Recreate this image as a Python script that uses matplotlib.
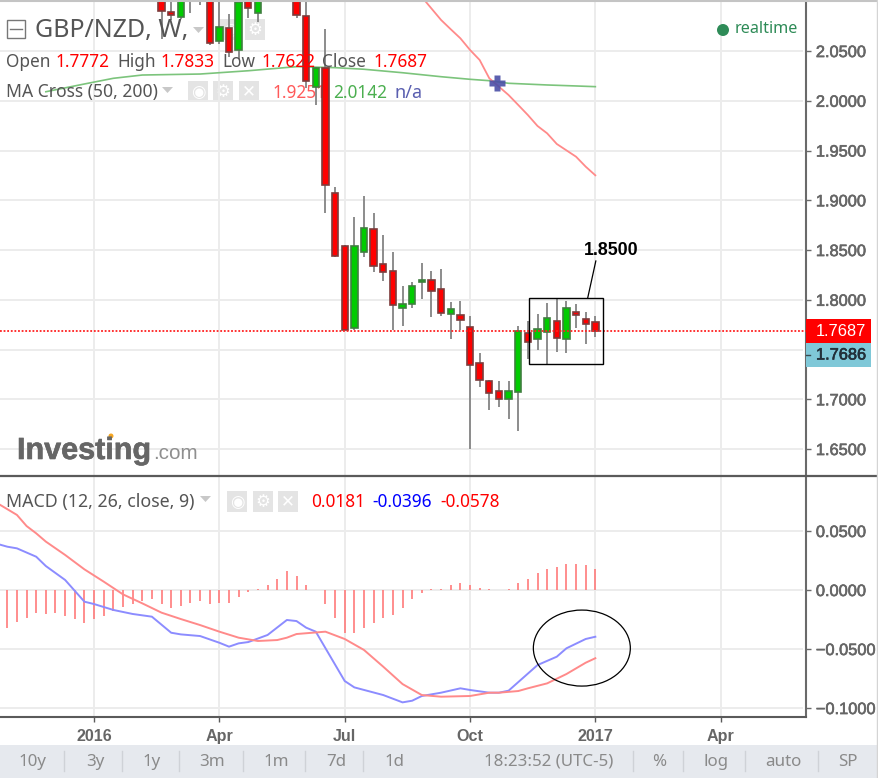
#!/usr/bin/env python3
"""GBP/NZD weekly candlestick chart with MA cross and MACD panels."""

import matplotlib
matplotlib.use("Agg")
import matplotlib.pyplot as plt
import matplotlib.patheffects as pe
from matplotlib.patches import Ellipse, Rectangle, Circle, Polygon
import numpy as np

nan = float("nan")

# week numbers count from the first July 2016 candle
weeks = list(range(-19, 27))
opens = [2.108, 2.0892, 2.0845, 2.112, 2.118, 2.108, 2.0604, 2.0729, 2.0511, 2.1033, 2.0885,
         nan, nan, nan, 2.112, 2.0852, 2.0136, 2.0330, 1.9073,
         1.8541, 1.7720, 1.8477, 1.8709, 1.8360, 1.8286, 1.7918, 1.7961, 1.8176, 1.8196,
         1.8106, 1.7857, 1.7847, 1.7727, 1.7365, 1.7184, 1.7080, 1.7000, 1.7076, 1.7663,
         1.7603, 1.7676, 1.7787, 1.7603, 1.7877, 1.7804, 1.7772]
closes = [2.0903, 2.0859, 2.104, 2.106, 2.110, 2.0584, 2.0745, 2.0493, 2.0996, 2.0933, 2.1003,
          nan, nan, nan, 2.0859, 2.0199, 2.0333, 1.9154, 1.8440,
          1.7697, 1.8541, 1.8725, 1.8340, 1.8279, 1.7948, 1.7955, 1.8136, 1.8196, 1.8085,
          1.7870, 1.7908, 1.7797, 1.7345, 1.7194, 1.7060, 1.7000, 1.7080, 1.7689, 1.7573,
          1.7710, 1.7817, 1.7616, 1.7921, 1.7844, 1.7754, 1.7687]
highs = [2.110, 2.103, 2.108, 2.116, 2.122, 2.112, 2.103, 2.0872, 2.106, 2.108, 2.108,
         nan, nan, nan, 2.118, 2.104, 2.0343, 2.0722, 1.9134,
         1.8551, 1.8829, 1.9043, 1.8875, 1.8651, 1.8483, 1.8139, 1.8182, 1.8367, 1.8289,
         1.8307, 1.7975, 1.7988, 1.7837, 1.7462, 1.7194, 1.7187, 1.7187, 1.7737, 1.7790,
         1.7854, 1.7971, 1.8005, 1.7988, 1.7958, 1.7880, 1.7833]
lows = [2.0621, 2.0812, 2.0822, 2.0885, 2.0963, 2.0561, 2.0571, 2.0443, 2.0420, 2.0832, 2.0795,
        nan, nan, nan, 2.0832, 2.0129, 1.9958, 1.8872, 1.8430,
        1.7697, 1.7697, 1.8430, 1.8276, 1.8189, 1.7697, 1.7737, 1.7915, 1.8005, 1.7824,
        1.7840, 1.7603, 1.7697, 1.6504, 1.7121, 1.6893, 1.6920, 1.6799, 1.6682, 1.7402,
        1.7496, 1.7355, 1.7478, 1.7462, 1.7720, 1.7556, 1.7622]

ma50_weeks = [8, 10, 11, 12, 13, 14, 15, 17, 18, 19, 20, 21, 22, 24, 25, 26]
ma50_values = [2.1043, 2.0812, 2.0719, 2.0628, 2.0511, 2.0410, 2.0226, 2.0058, 1.9958,
               1.9857, 1.9747, 1.9673, 1.9566, 1.9438, 1.9338, 1.9251]
ma200_weeks = [-31, -27, -24, -21, -15, -10, -5, -1, 2, 6, 10, 13, 15, 17, 21, 24, 26]
ma200_values = [2.0091, 2.0169, 2.0226, 2.0259, 2.0269, 2.0302, 2.0343, 2.0333, 2.0317,
                2.0282, 2.0242, 2.0216, 2.0202, 2.0176, 2.0159, 2.0149, 2.0142]
cross_week = 15.8
cross_price = 2.0176
last_price = 1.7687
last_bid = 1.7686

macd_weeks = [-36, -35, -34, -32, -31, -29, -27, -26, -24, -22, -20, -18, -17, -15, -13, -12,
              -11, -10, -8, -6, -5, -4, -3, 0, 1, 4, 6, 7, 8, 10, 12, 13, 15, 16, 17, 20, 22,
              23, 25, 26]
macd_values = [0.0390, 0.0367, 0.0353, 0.0282, 0.0203, 0.0085, -0.0099, -0.0119, -0.0169,
               -0.0203, -0.0226, -0.0362, -0.0376, -0.0390, -0.0447, -0.0480, -0.0452, -0.0441,
               -0.0381, -0.0254, -0.0263, -0.0319, -0.0353, -0.0771, -0.0825, -0.0890, -0.0952,
               -0.0938, -0.0898, -0.0870, -0.0833, -0.0847, -0.0870, -0.0870, -0.0853, -0.0636,
               -0.0565, -0.0494, -0.0415, -0.0396]
signal_weeks = [-36, -34, -33, -32, -31, -29, -27, -25, -23, -21, -19, -17, -15, -13, -11, -9,
                -7, -6, -5, -2, 0, 2, 4, 6, 8, 10, 13, 15, 16, 18, 19, 21, 23, 25, 26]
signal_values = [0.0734, 0.0636, 0.0542, 0.0480, 0.0410, 0.0297, 0.0175, 0.0071, -0.0037,
                 -0.0113, -0.0192, -0.0246, -0.0297, -0.0353, -0.0404, -0.0432, -0.0424,
                 -0.0404, -0.0373, -0.0353, -0.0415, -0.0508, -0.0650, -0.0797, -0.0890,
                 -0.0904, -0.0898, -0.0870, -0.0870, -0.0856, -0.0833, -0.0791, -0.0712,
                 -0.0616, -0.0578]
hist_weeks = list(range(-35, 27))
hist_values = [-0.0325, -0.0268, -0.0234, -0.0198, -0.0206, -0.0198, -0.0220, -0.0246, -0.0282,
               -0.0246, -0.0220, -0.0178, -0.0147, -0.0119, -0.0093, -0.0079, -0.0119, -0.0155,
               -0.0133, -0.0107, -0.0093, -0.0119, -0.0107, -0.0107, -0.0056, -0.0020, 0.0006,
               0.0042, 0.0093, 0.0158, 0.0119, 0.0042, 0.0, -0.0119, -0.0234, -0.0362, -0.0362,
               -0.0322, -0.0282, -0.0234, -0.0209, -0.0155, -0.0079, -0.0028, 0.0008, 0.0008,
               0.0042, 0.0056, 0.0042, 0.0020, 0.0006, 0.0, 0.0006, 0.0056, 0.0093, 0.0147,
               0.0181, 0.0195, 0.0220, 0.0220, 0.0209, 0.0181]

month_ticks = [-26, -13, 0, 13, 26, 39]
month_labels = ["2016", "Apr", "Jul", "Oct", "2017", "Apr"]
price_ticks = [1.65, 1.70, 1.80, 1.85, 1.90, 1.95, 2.00, 2.05]
price_grid = [1.65, 1.70, 1.75, 1.80, 1.85, 1.90, 1.95, 2.00, 2.05]
macd_ticks = [-0.10, -0.05, 0.0, 0.05]
macd_labels = ["\u22120.1000", "\u22120.0500", "0.0000", "0.0500"]

W, H = 879, 778
SANS = "Noto Sans"
ARIAL = "Liberation Sans"
GRID = "#ececec"
DARK = "#5a5a5a"


def px_axes(fig, zorder):
    ax = fig.add_axes([0, 0, 1, 1], zorder=zorder)
    ax.set_xlim(0, W)
    ax.set_ylim(H, 0)
    ax.axis("off")
    ax.patch.set_alpha(0)
    return ax


def icon_box(ax, x, y, glyph):
    ax.add_patch(Rectangle((x, y), 20, 21, facecolor="#e4e4e4", edgecolor="none"))
    ax.text(x + 10, y + 10.5, glyph, color="white", fontsize=12, ha="center", va="center",
            family="DejaVu Sans")


def arrow(ax, x, y):
    ax.add_patch(Polygon([(x, y - 3), (x + 11, y - 3), (x + 5.5, y + 3)],
                         facecolor="#c8c8c8", edgecolor="none"))


def label(ax, x, y, s, color="#555555", size=12.4):
    ax.text(x, y, s, color=color, fontsize=size, family=SANS, ha="left", va="center")


def thicken(texts, color="#666666"):
    # the reference labels look heavy from scaling blur
    for t in texts:
        t.set_path_effects([pe.withStroke(linewidth=0.45, foreground=color)])


fig = plt.figure(figsize=(W / 100, H / 100), dpi=100, facecolor="white")
back = px_axes(fig, 0)
front = px_axes(fig, 5)

x_left = -344.7 / 9.64
x_right = (806 - 344.7) / 9.64

ax = fig.add_axes([0, 1 - 476 / H, 806 / W, 476 / H], zorder=2)
macd = fig.add_axes([0, 1 - 717 / H, 806 / W, (717 - 476) / H], zorder=2)

for a in (ax, macd):
    a.patch.set_alpha(0)
    a.set_xlim(x_left, x_right)
    a.set_xticks(month_ticks)
    a.grid(True, axis="x", color=GRID, linewidth=1.4, zorder=0)
    a.set_axisbelow(True)
    a.yaxis.tick_right()
    a.spines["left"].set_visible(False)
    a.spines["top"].set_visible(False)
    a.spines["right"].set_color("#6a6a6a")
    a.spines["right"].set_linewidth(1.5)
    a.tick_params(axis="y", length=3.5, width=1.0, color="#6a6a6a", pad=3.6, labelcolor="#666666")

# price panel
ax.set_ylim(1.6229, 2.1013)
ax.hlines(price_grid, x_left, x_right - 0.35, color=GRID, linewidth=1.4, zorder=0)
ax.set_yticks(price_ticks, [f"{v:.4f}" for v in price_ticks], family=ARIAL, fontsize=11.8)
thicken(ax.get_yticklabels())
ax.tick_params(axis="x", length=0, labelbottom=False)
ax.spines["bottom"].set_visible(False)

ax.plot(ma200_weeks, ma200_values, color="#7cc47c", linewidth=1.2, zorder=2)
ax.plot(ma50_weeks, ma50_values, color="#ff8a8a", linewidth=1.3, zorder=2)
ax.plot([cross_week], [cross_price], marker="P", markersize=11.5, color="#4a4fa6",
        markeredgecolor="none", alpha=0.9, zorder=3)

o = np.array(opens)
c = np.array(closes)
wk = np.array(weeks)
up = c >= o
ax.vlines(wk, lows, highs, color="#8c8c8c", linewidth=1.4, zorder=3)
ax.bar(wk[up], (c - o)[up], bottom=o[up], width=0.66, color="#00cc00",
       edgecolor="#3f7f3f", linewidth=1.2, zorder=3.5)
ax.bar(wk[~up], (o - c)[~up], bottom=c[~up], width=0.66, color="#ff0000",
       edgecolor="#7d3b3b", linewidth=1.2, zorder=3.5)
ax.axhline(last_price, color="#ff2020", linewidth=1.3, linestyle=(0, (1.0, 1.0)), zorder=4)

# hand-drawn annotations on the price panel
ax.add_patch(Rectangle((19.15, 1.7355), 7.68, 0.066, fill=False, edgecolor="black",
                       linewidth=1.0, zorder=6))
ax.plot([25.2, 26.05], [1.8015, 1.8390], color="black", linewidth=0.9, zorder=6)
ax.text(27.6, 1.85, "1.8500", color="black", fontsize=12.8, fontweight="bold", family=ARIAL,
        ha="center", va="center", zorder=6)

# MACD panel
macd.set_ylim(-0.1076, 0.0966)
macd.hlines(macd_ticks, x_left, x_right - 0.35, color=GRID, linewidth=1.4, zorder=0)
macd.set_yticks(macd_ticks, macd_labels, family=ARIAL, fontsize=11.8)
thicken(macd.get_yticklabels())
macd.set_xticklabels(month_labels, family=ARIAL, fontsize=11.6, fontweight="bold", color="#666666")
macd.tick_params(axis="x", length=3.5, width=1.0, color="#5a5a5a", pad=5)
macd.spines["bottom"].set_color(DARK)
macd.spines["bottom"].set_linewidth(1.5)
macd.vlines(hist_weeks, 0, hist_values, color="#ff7a7a", linewidth=1.2, zorder=2)
macd.plot(macd_weeks, macd_values, color="#8c8cff", linewidth=1.4, zorder=3)
macd.plot(signal_weeks, signal_values, color="#ff8a8a", linewidth=1.4, zorder=3)
macd.add_patch(Ellipse((24.6, -0.0492), 10.06, 0.0644, fill=False, edgecolor="black",
                       linewidth=0.9, zorder=6))

# header and legend rows: icons under the candles, text above the grid
back.add_patch(Rectangle((7, 20), 18, 18, facecolor="white", edgecolor="#777777", linewidth=1.0))
back.plot([10, 22], [29, 29], color="#777777", linewidth=1.0)
label(front, 35, 30, "GBP/NZD, W,", color="#555555", size=18)
arrow(back, 193, 30)
icon_box(back, 220, 19, "\u25c9")
icon_box(back, 245, 19, "\u2699")

row1 = [(6, "Open", "#555555"), (56, "1.7772", "#ff0000"), (117, "High", "#555555"),
        (161, "1.7833", "#ff0000"), (222, "Low", "#555555"), (262, "1.7622", "#ff0000"),
        (322, "Close", "#555555"), (374, "1.7687", "#ff0000")]
for x, s, col in row1:
    label(front, x, 62, s, color=col)

label(front, 6, 92, "MA Cross (50, 200)", size=12.6)
arrow(back, 162, 90)
for x, g in zip((188, 213, 239), ("\u25c9", "\u2699", "\u2715")):
    icon_box(back, x, 81, g)
label(back, 273, 93, "1.9251", color="#ff5a5a")
label(front, 333, 93, "2.0142", color="#4caf50")
label(front, 395, 93, "n/a", color="#5a5fb0", size=13)

label(front, 6, 502, "MACD (12, 26, close, 9)", size=12.8)
arrow(back, 200, 499)
for x, g in zip((227, 253, 278), ("\u25c9", "\u2699", "\u2715")):
    icon_box(back, x, 491, g)
label(front, 311, 502, "0.0181", color="#ff0000")
label(front, 372, 502, "-0.0396", color="#0000ff")
label(front, 440, 502, "-0.0578", color="#ff0000")

front.add_patch(Circle((723, 30), 6, facecolor="#2e8b57", edgecolor="none"))
label(front, 735, 29, "realtime", color="#2e8b57", size=11.6)

# logo
logo = front.text(17, 459, "Investing", color="#666666", fontsize=22, fontweight="bold",
                  family=ARIAL, ha="left", va="baseline")
thicken([logo])
front.text(153, 459, ".com", color="#8f8f8f", fontsize=14.9, family=ARIAL, ha="left", va="baseline")
front.add_patch(Circle((111, 436), 2.5, facecolor="#f5a623", edgecolor="none"))

# chrome on top
front.plot([0, 877], [476, 476], color=DARK, linewidth=1.6)
front.plot([0, W], [0.5, 0.5], color="#c4c4c4", linewidth=1.5)
front.plot([877.5, 877.5], [0, H], color="#d4d4d4", linewidth=1.0)

front.add_patch(Rectangle((806, 319), 65, 24, facecolor="#ff0000", edgecolor="none"))
front.add_patch(Rectangle((806, 343), 65, 24, facecolor="#7fc8d8", edgecolor="none"))
front.text(816, 331, f"{last_price:.4f}", color="white", fontsize=11.8, family=ARIAL, va="center")
bid = front.text(816, 355, f"{last_bid:.4f}", color="#22303a", fontsize=11.8, family=ARIAL,
                 va="center")
thicken([bid], "#22303a")
front.plot([806, 810], [355, 355], color="#3a4a50", linewidth=1.0)

# bottom toolbar
front.add_patch(Rectangle((0, 745), 877, 33, facecolor="#e6e9ee", edgecolor="none"))
for x, s in [(32, "10y"), (95, "3y"), (152, "1y"), (212, "3m"), (276, "1m"), (336, "7d"),
             (394, "1d"), (549, "18:23:52 (UTC-5)"), (659, "%"), (716, "log"), (783, "auto"),
             (848, "SP")]:
    front.text(x, 762, s, color="#8a8a8a", fontsize=12.2, family=SANS, ha="center", va="center")
for x in (64, 122, 179, 243, 305, 363, 633, 683, 745, 818):
    front.plot([x, x], [751, 771], color="#cfd2d7", linewidth=1.0)

fig.savefig("out.png", dpi=100)
plt.close(fig)
